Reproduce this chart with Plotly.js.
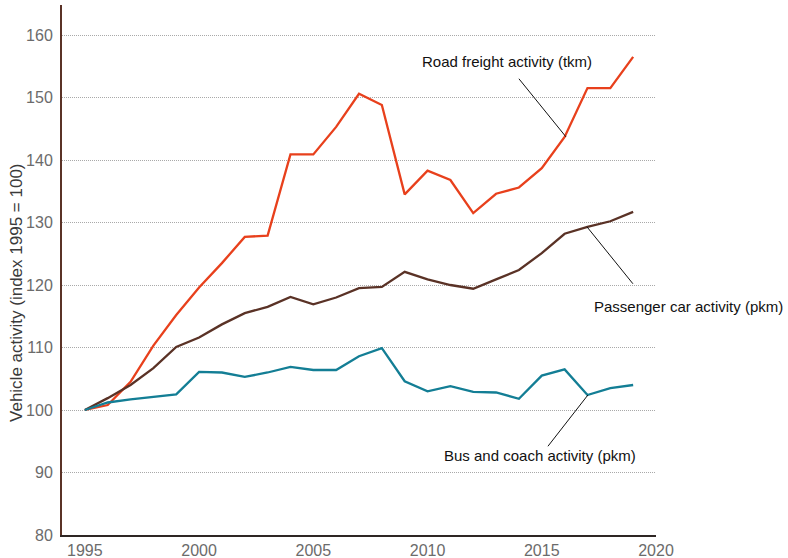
<!DOCTYPE html>
<html>
<head>
<meta charset="utf-8">
<script src="https://cdn.plot.ly/plotly-3.0.1.min.js"></script>
<style>html,body{margin:0;padding:0;background:#fff;}#chart{width:788px;height:558px;}</style>
</head>
<body>
<div id="chart"></div>
<script>
const years = [1995,1996,1997,1998,1999,2000,2001,2002,2003,2004,2005,2006,2007,2008,2009,2010,2011,2012,2013,2014,2015,2016,2017,2018,2019];
const roadFreight = [100,100.8,104.5,110.3,115.2,119.6,123.5,127.7,127.9,140.9,140.9,145.3,150.6,148.8,134.5,138.3,136.8,131.5,134.6,135.6,138.7,143.7,151.5,151.5,156.5];
const passengerCar = [100,101.9,104.0,106.7,110.1,111.6,113.7,115.5,116.5,118.1,116.9,118.0,119.5,119.7,122.1,120.9,120.0,119.4,120.9,122.4,125.1,128.2,129.3,130.2,131.7];
const busCoach = [100,101.2,101.7,102.1,102.5,106.1,106.0,105.3,106.0,106.9,106.4,106.4,108.6,109.9,104.6,103.0,103.8,102.9,102.8,101.8,105.5,106.5,102.4,103.5,104.0];
const seriesNames = ["Road freight activity (tkm)", "Passenger car activity (pkm)", "Bus and coach activity (pkm)"];
const yTitle = "Vehicle activity (index 1995 = 100)";
const xTicks = [1995,2000,2005,2010,2015,2020];
const yTicks = [80,90,100,110,120,130,140,150,160];

const font = "Liberation Sans, Arial, Helvetica, sans-serif";
const colors = ["#e8401c", "#5a3226", "#137e95"];
const traces = [roadFreight, passengerCar, busCoach].map((ys, i) => ({
  x: years, y: ys, type: "scatter", mode: "lines", name: seriesNames[i],
  line: {color: colors[i], width: 2.3}, hoverinfo: "skip"
}));

// label positions (paper coords) and leader lines (data coords)
const labels = [
  {text: seriesNames[0], x: 0.7491, y: 0.8925, lx0: 2014.0, ly0: 153.0, lx1: 2016.06, ly1: 143.7},
  {text: seriesNames[1], x: 1.0547, y: 0.4302, lx0: 2016.98, ly0: 129.3, lx1: 2018.99, ly1: 120.2},
  {text: seriesNames[2], x: 0.8047, y: 0.1509, lx0: 2017.02, ly0: 102.4, lx1: 2015.27, ly1: 94.2}
];

const annotations = labels.map(l => ({
  x: l.x, y: l.y, xref: "paper", yref: "paper", text: l.text, showarrow: false,
  font: {size: 15, color: "#111", family: font}, xanchor: "center", yanchor: "middle"
}));
annotations.push({
  x: -0.0775, y: 0.4566, xref: "paper", yref: "paper", text: yTitle, showarrow: false,
  textangle: -90, font: {size: 17, color: "#3a3a3a", family: font}, xanchor: "center", yanchor: "middle"
});

const layout = {
  width: 788, height: 558,
  margin: {l: 62, r: 132, t: 5, b: 23},
  paper_bgcolor: "#fff", plot_bgcolor: "#fff",
  showlegend: false,
  font: {family: font, color: "#666"},
  xaxis: {
    range: [1994, 2020], tickvals: xTicks, ticktext: xTicks.map(String),
    showgrid: false, zeroline: false, showline: true, linecolor: "#2e2624", linewidth: 2,
    ticks: "", tickfont: {size: 16, color: "#6b6b6b", family: font}, fixedrange: true
  },
  yaxis: {
    range: [80, 164.8], tickvals: yTicks, ticktext: yTicks.map(String),
    showgrid: true, gridcolor: "#a9a9a9", griddash: "1px,1px", gridwidth: 1,
    zeroline: false, showline: true, linecolor: "#5a3226", linewidth: 2,
    ticks: "", ticklabelstandoff: 4, tickfont: {size: 16, color: "#6b6b6b", family: font},
    fixedrange: true
  },
  annotations: annotations,
  shapes: labels.map(l => ({
    type: "line", xref: "x", yref: "y", x0: l.lx0, y0: l.ly0, x1: l.lx1, y1: l.ly1,
    line: {color: "#111", width: 1}
  }))
};

Plotly.newPlot("chart", traces, layout, {displayModeBar: false, staticPlot: true});
</script>
</body>
</html>
